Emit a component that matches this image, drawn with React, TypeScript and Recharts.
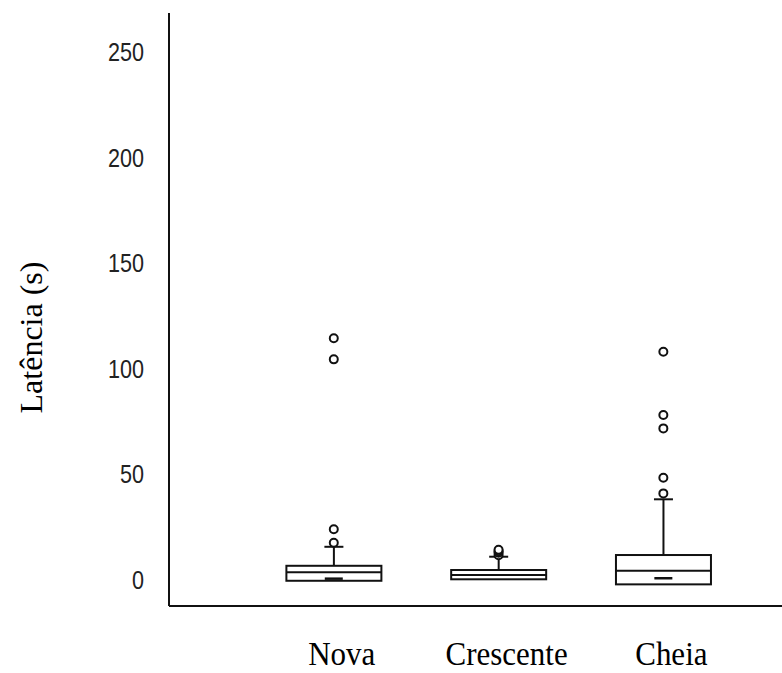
import {
  Bar,
  ComposedChart,
  Label,
  Scatter,
  XAxis,
  YAxis,
} from "recharts";

// fases da lua (posição no eixo x = 1, 2, 3)
const categories = ["Nova", "Crescente", "Cheia"];
const positions = [1, 2, 3];

// resumo das caixas, latência em segundos
const q1 = [-0.7, 0.0, -2.4];
const medians = [3.3, 2.0, 4.1];
const q3 = [6.4, 4.4, 11.5];
const whiskerTop = [15.4, 10.7, 37.9];
const lowMarks: (number | null)[] = [0.3, null, 0.5];

// valores atípicos
const outliersNova = [17.3, 23.7, 104.2, 114.2];
const outliersCrescente = [11.4, 12.6, 13.3, 14.0];
const outliersCheia = [40.7, 48.1, 71.5, 77.8, 107.8];

const yTicks = [0, 50, 100, 150, 200, 250];

const boxData = positions.map((x, i) => ({
  x,
  box: [q1[i], q3[i]],
  whisker: [q3[i], whiskerTop[i]],
}));
const medianData = positions.map((x, i) => ({ x, y: medians[i] }));
const markData = positions
  .map((x, i) => ({ x, y: lowMarks[i] }))
  .filter((d) => d.y !== null);
const outlierData = [
  ...outliersNova.map((y) => ({ x: positions[0], y })),
  ...outliersCrescente.map((y) => ({ x: positions[1], y })),
  ...outliersCheia.map((y) => ({ x: positions[2], y })),
];

const INK = "#111";
const BOX_W = 95;
const SERIF = "'Liberation Serif', 'Times New Roman', serif";

const BoxShape = (p: any) => (
  <rect
    x={p.x}
    y={p.y}
    width={p.width}
    height={p.height}
    fill="#fff"
    stroke={INK}
    strokeWidth={2}
  />
);

const WhiskerShape = (p: any) => {
  const cx = p.x + p.width / 2;
  return (
    <g stroke={INK} strokeWidth={2}>
      <line x1={cx} x2={cx} y1={p.y} y2={p.y + p.height} />
      <line x1={cx - 9.5} x2={cx + 9.5} y1={p.y} y2={p.y} />
    </g>
  );
};

const MedianShape = (p: any) => (
  <line
    x1={p.cx - BOX_W / 2}
    x2={p.cx + BOX_W / 2}
    y1={p.cy}
    y2={p.cy}
    stroke={INK}
    strokeWidth={2}
  />
);

const MarkShape = (p: any) => (
  <line
    x1={p.cx - 9}
    x2={p.cx + 9}
    y1={p.cy}
    y2={p.cy}
    stroke={INK}
    strokeWidth={2.5}
  />
);

const OutlierShape = (p: any) => (
  <circle cx={p.cx} cy={p.cy} r={4} fill="#fff" stroke={INK} strokeWidth={2} />
);

const XTick = (p: any) => {
  const idx = positions.indexOf(p.payload.value);
  return (
    <text
      transform={`translate(${p.x + 8} ${p.y + 59}) scale(1 1.1)`}
      textAnchor="middle"
      fontFamily={SERIF}
      fontSize={31}
      fill="#000"
    >
      {categories[idx]}
    </text>
  );
};

const YTick = (p: any) => (
  <text
    transform={`translate(${p.x} ${p.y}) scale(0.83 1)`}
    dy="0.36em"
    textAnchor="end"
    fontFamily="'Liberation Sans', Arial, sans-serif"
    fontSize={26}
    fill="#222"
  >
    {p.payload.value}
  </text>
);

const YTitle = (p: any) => {
  const vb = p.viewBox;
  const x = vb.x + 42;
  const y = vb.y + vb.height / 2 + 28;
  return (
    <text
      x={x}
      y={y}
      transform={`rotate(-90 ${x} ${y})`}
      textAnchor="middle"
      fontFamily={SERIF}
      fontSize={32}
      fill="#000"
    >
      Latência (s)
    </text>
  );
};

export default function App() {
  return (
    <div style={{ position: "absolute", left: 0, top: 0, background: "#fff" }}>
      <ComposedChart
        width={782}
        height={673}
        data={boxData}
        margin={{ top: 13, right: 0, bottom: 0, left: 0 }}
      >
        <XAxis
          dataKey="x"
          type="number"
          domain={[0, 3.72]}
          ticks={positions}
          allowDataOverflow
          height={67}
          tickLine={false}
          tickSize={0}
          tickMargin={0}
          axisLine={{ stroke: INK, strokeWidth: 2 }}
          tick={<XTick />}
        />
        <XAxis
          xAxisId="w"
          dataKey="x"
          type="number"
          domain={[0, 3.72]}
          allowDataOverflow
          hide
        />
        <YAxis
          type="number"
          domain={[-12.65, 268.3]}
          ticks={yTicks}
          allowDataOverflow
          width={169}
          tickLine={false}
          tickSize={0}
          tickMargin={25}
          axisLine={{ stroke: INK, strokeWidth: 2 }}
          tick={<YTick />}
        >
          <Label content={<YTitle />} />
        </YAxis>
        <Bar
          xAxisId="w"
          dataKey="whisker"
          barSize={BOX_W}
          shape={<WhiskerShape />}
          isAnimationActive={false}
        />
        <Bar
          dataKey="box"
          barSize={BOX_W}
          shape={<BoxShape />}
          isAnimationActive={false}
        />
        <Scatter
          data={medianData}
          dataKey="y"
          shape={<MedianShape />}
          isAnimationActive={false}
        />
        <Scatter
          data={markData}
          dataKey="y"
          shape={<MarkShape />}
          isAnimationActive={false}
        />
        <Scatter
          data={outlierData}
          dataKey="y"
          shape={<OutlierShape />}
          isAnimationActive={false}
        />
      </ComposedChart>
    </div>
  );
}
